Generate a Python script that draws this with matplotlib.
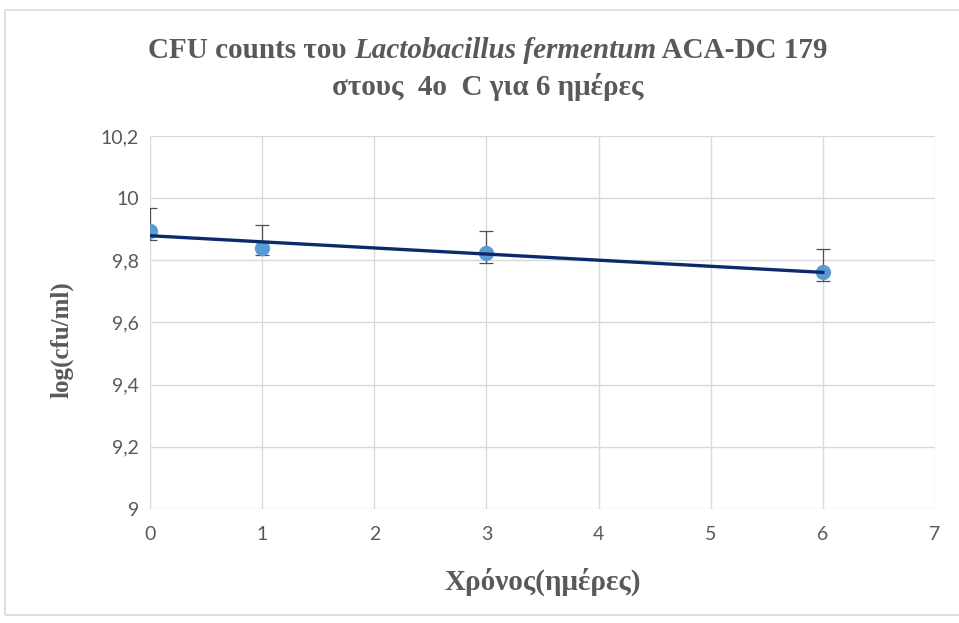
import matplotlib.pyplot as plt
import numpy as np
from matplotlib.patches import Rectangle

# data
days = [0, 1, 3, 6]
log_cfu = [9.894, 9.840, 9.823, 9.763]
err_low = [0.029, 0.024, 0.031, 0.030]
err_high = [0.074, 0.075, 0.071, 0.073]
yticks = [9.0, 9.2, 9.4, 9.6, 9.8, 10.0, 10.2]
ytick_labels = ['9', '9,2', '9,4', '9,6', '9,8', '10', '10,2']

fig = plt.figure(figsize=(9.59, 6.23), dpi=100)
ax = fig.add_axes([0.1564, 0.183, 0.8186, 0.5987])

ax.errorbar(days, log_cfu, yerr=[err_low, err_high], fmt='none',
            ecolor='#505050', elinewidth=0.9, capsize=5, capthick=0.9, zorder=3)
ax.plot(days, log_cfu, 'o', color='#5B9BD5', markersize=10, zorder=4)

# linear trendline
k, b = np.polyfit(days, log_cfu, 1)
xt = np.array([0, 6])
ax.plot(xt, k * xt + b, color='#0B2A6B', linewidth=2.4, zorder=5)

ax.set_xlim(0, 7)
ax.set_ylim(9, 10.2)
ax.set_xticks(range(8))
ax.set_yticks(yticks)
ax.set_yticklabels(ytick_labels)
ax.grid(True, color='#D9D9D9', linewidth=1)
ax.set_axisbelow(True)
for s in ax.spines.values():
    s.set_visible(False)
ax.tick_params(length=0, labelsize=14, labelcolor='#595959')
ax.tick_params(axis='y', pad=8)
ax.tick_params(axis='x', pad=12)
for lab in ax.get_xticklabels() + ax.get_yticklabels():
    lab.set_family('Lato')

lab_font = dict(family='Liberation Serif', weight='bold', color='#595959')
ax.set_xlabel('Χρόνος(ημέρες)', labelpad=18, size=21, **lab_font)
ax.set_ylabel('log(cfu/ml)', size=18, **lab_font)
ax.yaxis.set_label_coords(-0.097, 0.453)

# two-line title with italic species name
title_font = dict(family='Liberation Serif', weight='bold', size=21, color='#595959')
parts = [('CFU counts του ', 'normal'), ('Lactobacillus fermentum', 'italic'),
         (' ACA-DC 179', 'normal')]
fig.canvas.draw()
r = fig.canvas.get_renderer()
texts = [fig.text(0, 0, s, style=st, va='center', **title_font) for s, st in parts]
widths = [t.get_window_extent(r).width for t in texts]
x0 = 488 - sum(widths) / 2
for t, w in zip(texts, widths):
    t.set_position((x0 / 959, 1 - 50 / 623))
    x0 += w
fig.text(488 / 959, 1 - 87 / 623, 'στους  4o  C για 6 ημέρες', ha='center',
         va='center', **title_font)

fig.patches.append(Rectangle((5 / 959, 8 / 623), 1.2, 605 / 623, transform=fig.transFigure,
                             fill=False, edgecolor='#D9D9D9', linewidth=1.2))

fig.savefig('out.png', dpi=100)
